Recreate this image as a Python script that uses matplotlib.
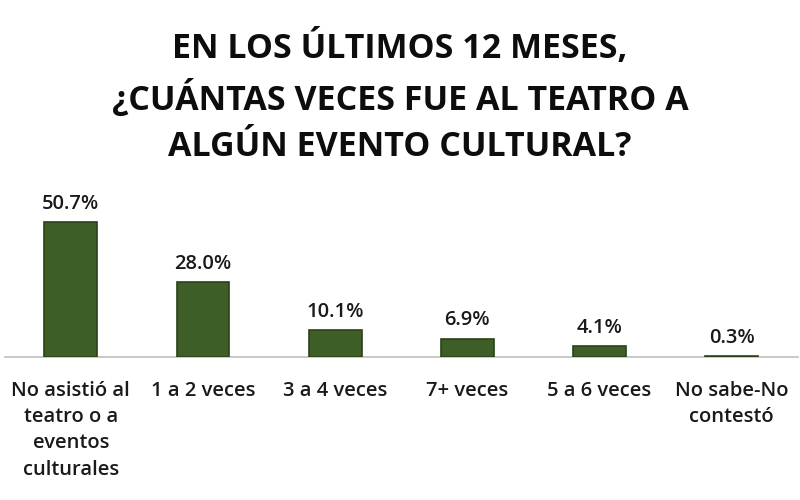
import matplotlib
matplotlib.use("Agg")
import matplotlib.pyplot as plt
import numpy as np

# ---------------------------------------------------------------------------
# Data
# ---------------------------------------------------------------------------
categories = [
    "No asistió al\nteatro o a\neventos\nculturales",
    "1 a 2 veces",
    "3 a 4 veces",
    "7+ veces",
    "5 a 6 veces",
    "No sabe-No\ncontestó",
]
values = [50.7, 28.0, 10.1, 6.9, 4.1, 0.3]
value_labels = ["50.7%", "28.0%", "10.1%", "6.9%", "4.1%", "0.3%"]

title = "EN LOS ÚLTIMOS 12 MESES,\n¿CUÁNTAS VECES FUE AL TEATRO A\nALGÚN EVENTO CULTURAL?"

BAR_COLOR = "#3d5e26"
EDGE_COLOR = "#2a4219"
FONT = ["Open Sans", "DejaVu Sans"]

fig = plt.figure(figsize=(8, 5), dpi=100)
fig.patch.set_facecolor("white")

fig.text(0.5, 0.806, title, ha="center", va="center",
         fontsize=24.5, fontweight="bold", family=FONT,
         linespacing=1.45, color="#0d0d0d")

ax = fig.add_axes([0.006, 0.286, 0.991, 0.314])
x = np.arange(len(categories))
ax.bar(x, values, width=0.4, color=BAR_COLOR, edgecolor=EDGE_COLOR,
       linewidth=1.2, zorder=3)

for xi, v, lbl in zip(x, values, value_labels):
    ax.annotate(lbl, (xi, v), xytext=(0, 6), textcoords="offset points",
                ha="center", va="bottom", fontsize=14.5, fontweight="semibold",
                family=FONT, color="#1a1a1a")

ax.set_xlim(-0.5, len(categories) - 0.5)
ax.set_ylim(0, 59)
ax.set_xticks(x)
ax.set_xticklabels(categories, fontsize=14.5, fontweight="semibold",
                   family=FONT, color="#1a1a1a", linespacing=1.42)
ax.tick_params(axis="x", length=0, pad=17)
ax.set_yticks([])
for side in ("top", "right", "left"):
    ax.spines[side].set_visible(False)
ax.spines["bottom"].set_color("#bfbfbf")
ax.spines["bottom"].set_linewidth(1.2)
ax.set_facecolor("none")

fig.savefig("out.png", dpi=100)
